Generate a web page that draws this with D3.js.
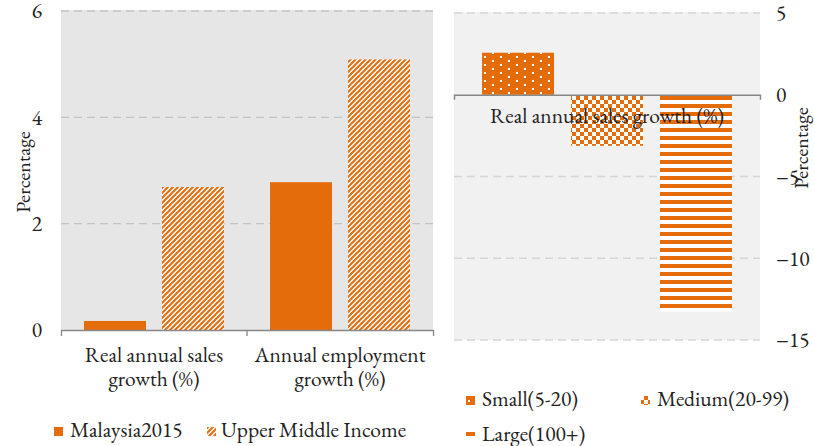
<!DOCTYPE html>
<html>
<head>
<meta charset="utf-8">
<script src="https://cdn.jsdelivr.net/npm/d3@7"></script>
<style>
  body { margin: 0; background: #fff; }
  svg text {
    font-family: "EB Garamond", Garamond, "Liberation Serif", "DejaVu Serif", serif;
    font-variant-numeric: lining-nums;
    font-feature-settings: "lnum" 1;
    fill: #222;
  }
</style>
</head>
<body>
<div id="chart"></div>
<script>
// left panel data
const leftCategories = [['Real annual sales', 'growth (%)'], ['Annual employment', 'growth (%)']];
const leftSeries = ['Malaysia2015', 'Upper Middle Income'];
const malaysia2015 = [0.17, 2.78];
const upperMiddle = [2.69, 5.09];
const leftTicks = [0, 2, 4, 6];

// right panel data
const rightCategory = 'Real annual sales growth (%)';
const firmSizes = ['Small(5-20)', 'Medium(20-99)', 'Large(100+)'];
const sizeValues = [2.57, -3.06, -13.2];
const rightTicks = [5, 0, -5, -10, -15];

const orange = '#e46c0a';
const fontSize = 21.5;
const W = 814, H = 446;

const svg = d3.select('#chart').append('svg')
    .attr('width', W)
    .attr('height', H);

// patterns
const defs = svg.append('defs');

const diag = defs.append('pattern').attr('id', 'pat-diag')
    .attr('patternUnits', 'userSpaceOnUse').attr('width', 5).attr('height', 5);
diag.append('rect').attr('width', 5).attr('height', 5).attr('fill', '#fff');
diag.append('path')
    .attr('d', 'M-1,1 l2,-2 M0,5 l5,-5 M4,6 l2,-2')
    .attr('stroke', orange).attr('stroke-width', 2);

const dots = defs.append('pattern').attr('id', 'pat-dots')
    .attr('patternUnits', 'userSpaceOnUse').attr('width', 16).attr('height', 8)
    .attr('x', 484).attr('y', 56);
dots.append('rect').attr('width', 16).attr('height', 8).attr('fill', orange);
dots.append('rect').attr('x', 0).attr('y', 0).attr('width', 2).attr('height', 2).attr('fill', '#fff');
dots.append('rect').attr('x', 8).attr('y', 4).attr('width', 2).attr('height', 2).attr('fill', '#fff');

const checker = defs.append('pattern').attr('id', 'pat-check')
    .attr('patternUnits', 'userSpaceOnUse').attr('width', 8).attr('height', 8);
checker.append('rect').attr('width', 8).attr('height', 8).attr('fill', '#fff');
checker.append('rect').attr('width', 4).attr('height', 4).attr('fill', orange);
checker.append('rect').attr('x', 4).attr('y', 4).attr('width', 4).attr('height', 4).attr('fill', orange);

const hstripe = defs.append('pattern').attr('id', 'pat-hstripe')
    .attr('patternUnits', 'userSpaceOnUse').attr('width', 8).attr('height', 8).attr('y', 100);
hstripe.append('rect').attr('width', 8).attr('height', 8).attr('fill', '#fff');
hstripe.append('rect').attr('y', 4).attr('width', 8).attr('height', 4).attr('fill', orange);

const leftFills = [orange, 'url(#pat-diag)'];
const rightFills = ['url(#pat-dots)', 'url(#pat-check)', 'url(#pat-hstripe)'];

// ---------------- left panel ----------------
const L = {x0: 61, x1: 433, top: 11, bottom: 330};

const yL = d3.scaleLinear().domain([0, 6]).range([L.bottom, L.top]);
const xL = d3.scaleBand().domain(d3.range(leftCategories.length))
    .range([L.x0, L.x1]).paddingInner(0).paddingOuter(0);
const xL1 = d3.scaleBand().domain(leftSeries)
    .range([0, xL.bandwidth()]).paddingInner(0.205).paddingOuter(0.295);

svg.append('rect')
    .attr('x', L.x0).attr('y', L.top - 1)
    .attr('width', L.x1 - L.x0).attr('height', L.bottom - L.top + 1)
    .attr('fill', '#e6e6e6');

// grid
svg.append('g')
    .selectAll('line')
    .data(leftTicks.filter(d => d !== 0))
    .join('line')
      .attr('x1', L.x0).attr('x2', L.x1)
      .attr('y1', d => yL(d)).attr('y2', d => yL(d))
      .attr('stroke', '#c4c4c4').attr('stroke-width', 1.3)
      .attr('stroke-dasharray', '8,5');

// bars
const leftData = [malaysia2015, upperMiddle];
leftSeries.forEach((s, si) => {
  svg.append('g')
    .selectAll('rect')
    .data(leftData[si])
    .join('rect')
      .attr('x', (d, i) => xL(i) + xL1(s))
      .attr('width', xL1.bandwidth())
      .attr('y', d => yL(d))
      .attr('height', d => yL(0) - yL(d))
      .attr('fill', leftFills[si]);
});

// y axis labels
const yAxisL = svg.append('g')
    .attr('transform', `translate(${L.x0},0)`)
    .call(d3.axisLeft(yL).tickValues(leftTicks).tickSize(0).tickPadding(19).tickFormat(d3.format('d')));
yAxisL.select('.domain').remove();
yAxisL.selectAll('text').attr('font-size', fontSize).attr('font-family', null).attr('fill', '#222');

svg.append('text')
    .attr('text-anchor', 'middle')
    .attr('transform', `translate(30,172) rotate(-90)`)
    .attr('font-size', 20)
    .text('Percentage');

// x axis
const xAxisL = svg.append('g')
    .attr('transform', `translate(0,${L.bottom})`)
    .call(d3.axisBottom(xL).tickSize(0).tickSizeOuter(6).tickFormat(''));
xAxisL.select('.domain').attr('stroke', '#888').attr('stroke-width', 1.3);
xAxisL.selectAll('.tick').remove();
xAxisL.selectAll('.sep')
    .data(d3.range(1, leftCategories.length))
    .join('line')
      .attr('x1', d => xL(d)).attr('x2', d => xL(d))
      .attr('y1', 0).attr('y2', 6)
      .attr('stroke', '#888').attr('stroke-width', 1.3);

const catL = svg.append('g')
    .selectAll('text')
    .data(leftCategories)
    .join('text')
      .attr('text-anchor', 'middle')
      .attr('font-size', fontSize)
      .attr('x', (d, i) => xL(i) + xL.bandwidth() / 2)
      .attr('y', 362);
catL.selectAll('tspan')
    .data(d => d)
    .join('tspan')
      .attr('x', function() { return this.parentNode.getAttribute('x'); })
      .attr('dy', (d, i) => i === 0 ? 0 : 24)
      .text(d => d);

// left legend
const legL = [{x: 54, tx: 70}, {x: 207, tx: 221}];
leftSeries.forEach((s, si) => {
  svg.append('rect')
    .attr('x', legL[si].x).attr('y', 427)
    .attr('width', 9).attr('height', 9)
    .attr('fill', leftFills[si]);
  svg.append('text')
    .attr('x', legL[si].tx).attr('y', 437)
    .attr('font-size', fontSize)
    .text(s);
});

// ---------------- right panel ----------------
const R = {x0: 454, x1: 760, top: 13, bottom: 340};

const yR = d3.scaleLinear().domain([-15, 5]).range([R.bottom, R.top]);
const xR = d3.scaleBand().domain([rightCategory]).range([R.x0, R.x1]);
const xR1 = d3.scaleBand().domain(firmSizes)
    .range([0, xR.bandwidth()]).paddingInner(0.191).paddingOuter(0.315);

svg.append('rect')
    .attr('x', R.x0).attr('y', R.top - 1)
    .attr('width', R.x1 - R.x0).attr('height', R.bottom - R.top + 1)
    .attr('fill', '#f1f1f1');

svg.append('g')
    .selectAll('line')
    .data(rightTicks.filter(d => d !== 0))
    .join('line')
      .attr('x1', R.x0).attr('x2', R.x1)
      .attr('y1', d => yR(d)).attr('y2', d => yR(d))
      .attr('stroke', '#d6d6d6').attr('stroke-width', 1.3)
      .attr('stroke-dasharray', '8,5');

svg.append('g')
    .selectAll('rect')
    .data(sizeValues)
    .join('rect')
      .attr('x', (d, i) => xR(rightCategory) + xR1(firmSizes[i]))
      .attr('width', xR1.bandwidth())
      .attr('y', d => d >= 0 ? yR(d) : yR(0) + 1)
      .attr('height', d => Math.abs(yR(0) - yR(d)))
      .attr('fill', (d, i) => rightFills[i]);

const xAxisR = svg.append('g')
    .attr('transform', `translate(0,${yR(0)})`)
    .call(d3.axisBottom(xR).tickSizeInner(0).tickSizeOuter(5).tickPadding(13));
xAxisR.select('.domain').attr('stroke', '#888').attr('stroke-width', 1.5);
xAxisR.selectAll('text').attr('font-size', fontSize).attr('font-family', null).attr('fill', '#222');

const yAxisR = svg.append('g')
    .attr('transform', `translate(${R.x1},0)`)
    .call(d3.axisRight(yR).tickValues(rightTicks).tickSize(0).tickPadding(16).tickFormat(d3.format('d')));
yAxisR.select('.domain').remove();
yAxisR.selectAll('text').attr('font-size', fontSize).attr('font-family', null).attr('fill', '#222');

svg.append('text')
    .attr('text-anchor', 'middle')
    .attr('transform', `translate(808,148) rotate(-90)`)
    .attr('font-size', 20)
    .text('Percentage');

// right legend
const legR = [{x: 466, y: 396}, {x: 641, y: 396}, {x: 466, y: 431}];
firmSizes.forEach((s, i) => {
  svg.append('rect')
    .attr('x', legR[i].x).attr('y', legR[i].y)
    .attr('width', 9).attr('height', 9)
    .attr('fill', rightFills[i]);
  svg.append('text')
    .attr('x', legR[i].x + 16).attr('y', legR[i].y + 10)
    .attr('font-size', fontSize)
    .text(s);
});
</script>
</body>
</html>
